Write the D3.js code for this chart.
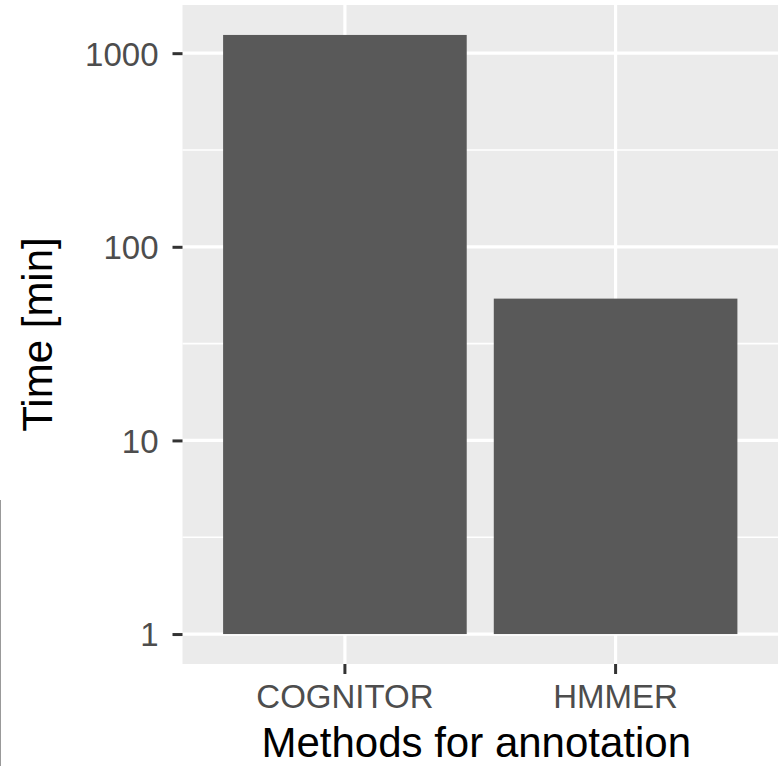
<!DOCTYPE html>
<html>
<head>
<meta charset="utf-8">
<script src="https://cdn.jsdelivr.net/npm/d3@7"></script>
<style>
  body { margin: 0; background: #fff; }
  svg text { font-family: "Liberation Sans", Arial, sans-serif; }
</style>
</head>
<body>
<svg id="chart" width="779" height="766"></svg>
<script>
// Data
const methods = ['COGNITOR', 'HMMER'];
const times = [1242, 54];
const yTicks = [1, 10, 100, 1000];
const yMinor = [Math.sqrt(10), Math.sqrt(10) * 10, Math.sqrt(10) * 100];

const svg = d3.select('#chart');

const panel = { left: 182.5, right: 778, top: 5, bottom: 664 };

// ggplot style 5% expansion in log space
const lo = 0, hi = Math.log10(d3.max(times));
const pad = (hi - lo) * 0.05;

const yScale = d3.scaleLog()
  .domain([Math.pow(10, lo - pad), Math.pow(10, hi + pad)])
  .range([panel.bottom, panel.top]);

const xScale = d3.scaleBand()
  .domain(methods)
  .range([panel.left, panel.right])
  .paddingInner(0.1)
  .paddingOuter(0.15);

// Panel background
svg.append('rect')
  .attr('x', panel.left)
  .attr('y', panel.top)
  .attr('width', panel.right - panel.left)
  .attr('height', panel.bottom - panel.top)
  .attr('fill', '#EBEBEB');

// Minor grid
svg.selectAll('.minor')
  .data(yMinor)
  .enter()
  .append('line')
  .attr('x1', panel.left).attr('x2', panel.right)
  .attr('y1', d => yScale(d)).attr('y2', d => yScale(d))
  .attr('stroke', '#fff').attr('stroke-width', 1.6);

// Major grid
svg.selectAll('.major')
  .data(yTicks)
  .enter()
  .append('line')
  .attr('x1', panel.left).attr('x2', panel.right)
  .attr('y1', d => yScale(d)).attr('y2', d => yScale(d))
  .attr('stroke', '#fff').attr('stroke-width', 3.2);

svg.selectAll('.vgrid')
  .data(methods)
  .enter()
  .append('line')
  .attr('x1', d => xScale(d) + xScale.bandwidth() / 2)
  .attr('x2', d => xScale(d) + xScale.bandwidth() / 2)
  .attr('y1', panel.top).attr('y2', panel.bottom)
  .attr('stroke', '#fff').attr('stroke-width', 3.2);

// Bars
svg.selectAll('.bar')
  .data(methods)
  .enter()
  .append('rect')
  .attr('x', d => xScale(d))
  .attr('width', xScale.bandwidth())
  .attr('y', (d, i) => yScale(times[i]))
  .attr('height', (d, i) => yScale(1) - yScale(times[i]))
  .attr('fill', '#595959');

// Y axis
const yAxis = svg.append('g')
  .attr('transform', `translate(${panel.left}, 0)`)
  .call(d3.axisLeft(yScale).tickValues(yTicks).tickFormat(d3.format('d'))
    .tickSize(10).tickPadding(14));
yAxis.select('.domain').remove();
yAxis.selectAll('.tick line').attr('stroke', '#333').attr('stroke-width', 3);
yAxis.selectAll('.tick text')
  .attr('fill', '#4D4D4D')
  .style('font-size', '33px')
  .attr('dy', '0.36em');

// X axis
const xAxis = svg.append('g')
  .attr('transform', `translate(0, ${panel.bottom})`)
  .call(d3.axisBottom(xScale).tickSize(10).tickPadding(12));
xAxis.select('.domain').remove();
xAxis.selectAll('.tick line').attr('stroke', '#333').attr('stroke-width', 3);
xAxis.selectAll('.tick text')
  .attr('fill', '#4D4D4D')
  .style('font-size', '33px')
  .attr('y', 44)
  .attr('dy', null);

// Axis titles
svg.append('text')
  .text('Methods for annotation')
  .attr('x', (panel.left + panel.right) / 2 - 4)
  .attr('y', 757)
  .attr('text-anchor', 'middle')
  .attr('fill', '#000')
  .style('font-size', '42px');

svg.append('text')
  .text('Time [min]')
  .attr('text-anchor', 'middle')
  .attr('transform', `translate(52, ${(panel.top + panel.bottom) / 2}) rotate(-90)`)
  .attr('fill', '#000')
  .style('font-size', '42px');

// Cropped edge of neighbouring figure
svg.append('line')
  .attr('x1', 0.5).attr('x2', 0.5)
  .attr('y1', 500).attr('y2', 766)
  .attr('stroke', '#999').attr('stroke-width', 1);
</script>
</body>
</html>
